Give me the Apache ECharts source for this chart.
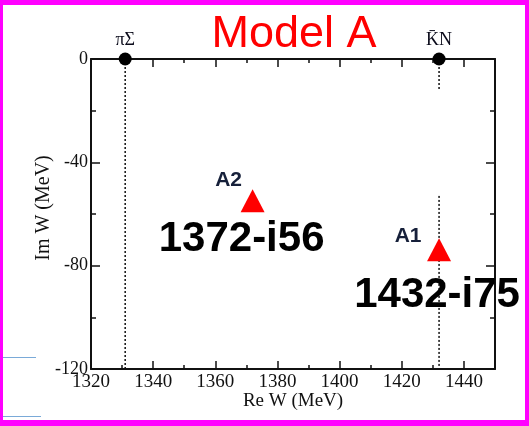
<!DOCTYPE html>
<html><head><meta charset="utf-8">
<script src="https://cdn.jsdelivr.net/npm/echarts@6/dist/echarts.min.js"></script>
<style>html,body{margin:0;padding:0;background:#fff}#c{width:529px;height:426px}</style>
</head><body><div id="c"></div>
<script>
// ---- data ----
const titleText = 'Model A';
const poleNames = ['A2', 'A1'];
const poleRe = [1372, 1432];
const poleIm = [-56, -75];
const poleText = ['1372-i56', '1432-i75'];
const thresholdNames = ['πΣ', 'K\u0304N'];
const thresholdRe = [1331, 1432];
const thresholdIm = [0, 0];
const segX = [1331, 1432, 1432];
const segFrom = [0, 0, -53];
const segTo = [-120, -12, -120];
const xRange = [1320, 1450];
const yRange = [-120, 0];
const xName = 'Re W (MeV)';
const yName = 'Im W (MeV)';

// ---- styles ----
const nameOffsets = [[-24, -23], [-31, -17]];
const textOffsets = [[-11, 36], [-2, 43]];
const serif = "'Liberation Serif', 'DejaVu Serif', serif";
const sans = "'Liberation Sans', Arial, sans-serif";
const axisCol = '#111';

const chart = echarts.init(document.getElementById('c'), null, {renderer: 'canvas'});

const baseX = {
  type: 'value', min: xRange[0], max: xRange[1], interval: 20,
  axisLine: {show: true, onZero: false, lineStyle: {color: axisCol, width: 2}},
  axisTick: {show: true, inside: true, length: 8, lineStyle: {color: axisCol, width: 1.5}},
  minorTick: {show: true, splitNumber: 2, length: 4, lineStyle: {color: axisCol, width: 1.5}},
  splitLine: {show: false}, minorSplitLine: {show: false}
};
const baseY = {
  type: 'value', min: yRange[0], max: yRange[1], interval: 40,
  axisLine: {show: true, onZero: false, lineStyle: {color: axisCol, width: 2}},
  axisTick: {show: true, inside: true, length: 9, lineStyle: {color: axisCol, width: 1.5}},
  minorTick: {show: true, splitNumber: 2, length: 5, lineStyle: {color: axisCol, width: 1.5}},
  splitLine: {show: false}, minorSplitLine: {show: false}
};

const series = [];
segX.forEach((x, i) => {
  series.push({
    type: 'line', xAxisIndex: 0, yAxisIndex: 0, symbol: 'none', silent: true,
    data: [[x, segFrom[i]], [x, segTo[i]]],
    lineStyle: {color: '#111', width: 1.5, type: [2, 2]}, z: 2
  });
});
series.push({
  type: 'scatter', xAxisIndex: 0, yAxisIndex: 0, symbol: 'circle', symbolSize: 13,
  itemStyle: {color: '#000', opacity: 1}, z: 5,
  data: thresholdRe.map((x, i) => ({value: [x, thresholdIm[i]], name: thresholdNames[i]})),
  label: {show: true, position: 'top', distance: 3, formatter: p => p.name, opacity: 1,
    fontFamily: serif, fontSize: 18, color: '#0a0a1a'}
});
series.push({
  type: 'scatter', xAxisIndex: 0, yAxisIndex: 0, symbol: 'triangle', symbolSize: [24, 23],
  symbolOffset: [0, -3], itemStyle: {color: '#ff0000', opacity: 1}, z: 4,
  data: poleRe.map((x, i) => [x, poleIm[i]])
});
series.push({
  type: 'scatter', xAxisIndex: 0, yAxisIndex: 0, symbolSize: 1, itemStyle: {color: 'transparent', opacity: 1}, z: 6,
  data: poleRe.map((x, i) => ({value: [x, poleIm[i]], name: poleNames[i],
    label: {offset: nameOffsets[i]}})),
  label: {show: true, position: 'inside', formatter: p => p.name, opacity: 1,
    fontFamily: sans, fontWeight: 'bold', fontSize: 21, color: '#16203a'}
});
series.push({
  type: 'scatter', xAxisIndex: 0, yAxisIndex: 0, symbolSize: 1, itemStyle: {color: 'transparent', opacity: 1}, z: 6,
  data: poleRe.map((x, i) => ({value: [x, poleIm[i]], name: poleText[i],
    label: {offset: textOffsets[i]}})),
  label: {show: true, position: 'inside', formatter: p => p.name, opacity: 1,
    fontFamily: sans, fontWeight: 'bold', fontSize: 42, color: '#000'}
});

chart.setOption({
  animation: false,
  grid: {left: 91, right: 34, top: 59, bottom: 57},
  xAxis: [
    Object.assign({}, baseX, {position: 'bottom', name: xName, nameLocation: 'middle', nameGap: 23,
      nameMoveOverlap: false,
      nameTextStyle: {fontFamily: serif, fontSize: 19, color: '#111'},
      axisLabel: {show: true, margin: 4, fontFamily: serif, fontSize: 19, color: '#111',
        formatter: v => String(v)}}),
    Object.assign({}, baseX, {position: 'top', axisLabel: {show: false}})
  ],
  yAxis: [
    Object.assign({}, baseY, {position: 'left', name: yName, nameLocation: 'middle', nameGap: 37,
      nameMoveOverlap: false,
      nameTextStyle: {fontFamily: serif, fontSize: 20, color: '#111', padding: [0, 0, 0, 12]},
      axisLabel: {show: true, margin: 3, fontFamily: serif, fontSize: 18, color: '#111',
        formatter: v => String(v)}}),
    Object.assign({}, baseY, {position: 'right', axisLabel: {show: false}})
  ],
  series: series,
  graphic: [
    {type: 'text', x: 294, y: 35, z: 10, style: {text: titleText, fill: '#ff0000',
      font: "45px 'Liberation Sans', Arial, sans-serif", textAlign: 'center', textVerticalAlign: 'middle'}},
    {type: 'line', shape: {x1: 3, y1: 357.5, x2: 36, y2: 357.5}, style: {stroke: '#7aaad8', lineWidth: 1}},
    {type: 'line', shape: {x1: 3, y1: 416.5, x2: 41, y2: 416.5}, style: {stroke: '#7aaad8', lineWidth: 1}},
    {type: 'rect', shape: {x: 0, y: 0, width: 529, height: 5}, style: {fill: '#ff00ff'}, z: 20},
    {type: 'rect', shape: {x: 0, y: 420, width: 529, height: 6}, style: {fill: '#ff00ff'}, z: 20},
    {type: 'rect', shape: {x: 0, y: 0, width: 3, height: 426}, style: {fill: '#ff00ff'}, z: 20},
    {type: 'rect', shape: {x: 525, y: 0, width: 4, height: 426}, style: {fill: '#ff00ff'}, z: 20}
  ]
});
</script></body></html>
